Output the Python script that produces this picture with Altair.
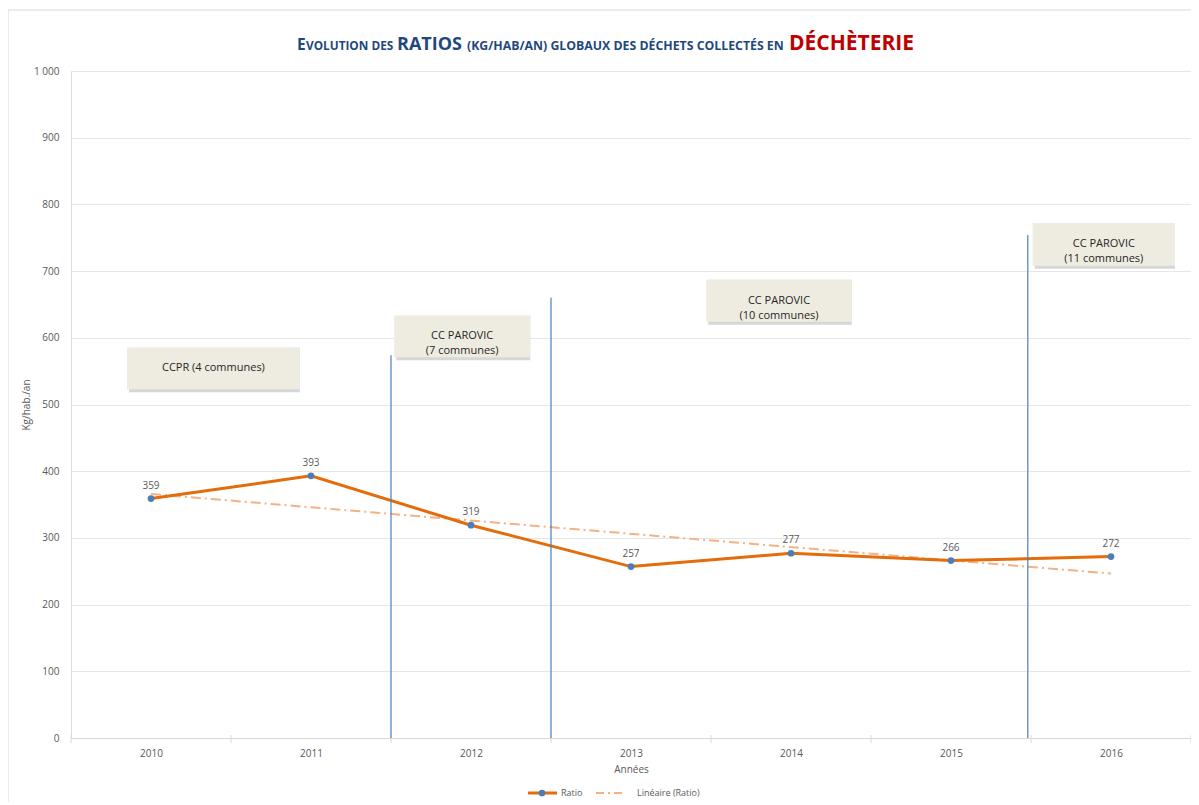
import altair as alt
import pandas as pd

years = [2010, 2011, 2012, 2013, 2014, 2015, 2016]
ratios = [359, 393, 319, 257, 277, 266, 272]

# Boundaries between groupings of communes (vertical blue lines)
sep_years = [2011.5, 2012.5, 2015.48]
sep_tops = [574, 660, 754]

# Annotation boxes (data coordinates)
ann_text = ["CCPR (4 communes)", "CC PAROVIC\n(7 communes)", "CC PAROVIC\n(10 communes)", "CC PAROVIC\n(11 communes)"]
ann_x1 = [2009.85, 2011.52, 2013.47, 2015.51]
ann_x2 = [2010.93, 2012.37, 2014.38, 2016.4]
ann_y1 = [523, 571, 624, 708]
ann_y2 = [585, 633, 687, 772]

FONT = "Open Sans"
TFONT = "Open Sans"
ORANGE = "#E46C0A"
BLUE = "#4A7EBB"
TREND = "#F4B183"
GRAY = "#595959"

df = pd.DataFrame({"year": years, "ratio": ratios})
sep = pd.DataFrame({"x": sep_years, "top": sep_tops, "zero": [0] * len(sep_years)})
ann = pd.DataFrame({"t": ann_text, "x1": ann_x1, "x2": ann_x2, "y1": ann_y1, "y2": ann_y2})
ann["xm"] = (ann["x1"] + ann["x2"]) / 2
ann["ym"] = (ann["y1"] + ann["y2"]) / 2
ann["lines"] = ann["t"].str.split("\n")
bounds = pd.DataFrame({"b": [2009.5 + i for i in range(8)]})

xscale = alt.Scale(domain=[2009.5, 2016.5], nice=False, zero=False)
yscale = alt.Scale(domain=[0, 1000], nice=False)

X = alt.X("year:Q", scale=xscale,
          axis=alt.Axis(values=years, format="d", ticks=False, grid=False, domain=True,
                        domainColor="#D9D9D9", labelColor=GRAY, labelFont=FONT, labelFontSize=10,
                        labelPadding=10, title="Années", titleFont=FONT, titleFontSize=10,
                        titleColor=GRAY, titleFontWeight="normal", titlePadding=6))
Y = alt.Y("ratio:Q", scale=yscale,
          axis=alt.Axis(values=list(range(0, 1001, 100)), grid=True, gridColor="#E6E6E6",
                        ticks=False, domain=False, labelColor=GRAY, labelFont=FONT, labelFontSize=10,
                        labelPadding=12,
                        labelExpr="datum.value >= 1000 ? replace(format(datum.value, ','), ',', ' ') : format(datum.value, 'd')",
                        title="Kg/hab./an", titleFont=FONT, titleFontSize=10, titleColor=GRAY,
                        titleFontWeight="normal", titlePadding=2))

base = alt.Chart(df)

line = base.mark_line(color=ORANGE, strokeWidth=3).encode(x=X, y=Y)
trend = base.transform_regression("year", "ratio").mark_line(
    color=TREND, strokeWidth=2, strokeDash=[10, 4, 2, 4]).encode(
    x=alt.X("year:Q", scale=xscale), y=alt.Y("ratio:Q", scale=yscale))
pts = base.mark_circle(color=BLUE, size=45, opacity=1).encode(
    x=alt.X("year:Q", scale=xscale), y=alt.Y("ratio:Q", scale=yscale))
labels = base.mark_text(dy=-13, color=GRAY, font=FONT, fontSize=10).encode(
    x=alt.X("year:Q", scale=xscale), y=alt.Y("ratio:Q", scale=yscale), text="ratio:Q")

seps = alt.Chart(sep).mark_rule(color=BLUE, strokeWidth=1.2).encode(
    x=alt.X("x:Q", scale=xscale), y=alt.Y("zero:Q", scale=yscale), y2="top:Q")

btick = alt.Chart(bounds).mark_rule(color="#D9D9D9").encode(
    x=alt.X("b:Q", scale=xscale), y=alt.value(664), y2=alt.value(672))

shadow = alt.Chart(ann).mark_rect(color="#8C8C8C", opacity=0.35, xOffset=2, yOffset=3).encode(
    x=alt.X("x1:Q", scale=xscale), x2="x2:Q", y=alt.Y("y1:Q", scale=yscale), y2="y2:Q")
boxes = alt.Chart(ann).mark_rect(color="#EEECE1").encode(
    x=alt.X("x1:Q", scale=xscale), x2="x2:Q", y=alt.Y("y1:Q", scale=yscale), y2="y2:Q")
btext = alt.Chart(ann).mark_text(font=FONT, fontSize=11, color="#262626", lineHeight=15,
                                 baseline="middle").encode(
    x=alt.X("xm:Q", scale=xscale), y=alt.Y("ym:Q", scale=yscale), text="lines")

# Title pieces (small caps imitation)
DARKBLUE = "#1F497D"
RED = "#C00000"
one = alt.Chart(df).transform_filter("datum.year == 2010")
def tpiece(txt, x, size, color=DARKBLUE):
    return one.mark_text(
        text=txt, align="left", baseline="alphabetic", font=TFONT, fontSize=size,
        fontWeight="bold", color=color).encode(x=alt.value(x), y=alt.value(-21))

title = (tpiece("E", 226, 15.5) + tpiece("VOLUTION DES", 235, 11.8) + tpiece("RATIOS", 326, 18)
         + tpiece("(KG/HAB/AN) GLOBAUX DES DÉCHETS COLLECTÉS EN", 396, 12.3)
         + tpiece("DÉCHÈTERIE", 718, 21, RED))

# Legend
LY = 722
leg = (one.mark_rule(color=ORANGE, strokeWidth=3).encode(x=alt.value(457), x2=alt.value(486), y=alt.value(LY))
       + one.mark_circle(color=BLUE, size=45, opacity=1).encode(x=alt.value(471), y=alt.value(LY))
       + one.mark_text(text="Ratio", align="left", font=FONT, fontSize=9, color=GRAY, baseline="middle").encode(x=alt.value(490), y=alt.value(LY))
       + one.mark_rule(color=TREND, strokeWidth=2, strokeDash=[8, 4, 2, 4]).encode(x=alt.value(525), x2=alt.value(553), y=alt.value(LY))
       + one.mark_text(text="Linéaire (Ratio)", align="left", font=FONT, fontSize=9, color=GRAY, baseline="middle").encode(x=alt.value(566), y=alt.value(LY)))

frame = (one.mark_rule(color="#D9D9D9").encode(x=alt.value(-63), y=alt.value(-61), y2=alt.value(740))
         + one.mark_rule(color="#D9D9D9").encode(x=alt.value(-63), x2=alt.value(1140), y=alt.value(-61)))

chart = alt.layer(
    frame, btick, trend, line, pts, labels, seps, shadow, boxes, btext, title, leg
).properties(
    width=1120, height=667,
    autosize=alt.AutoSizeParams(type="none"),
    padding={"left": 63, "top": 63, "right": 0, "bottom": 64},
).configure_view(stroke=None).configure(background="white")

chart.save("out.html", embed_options={"renderer": "svg", "actions": False})
